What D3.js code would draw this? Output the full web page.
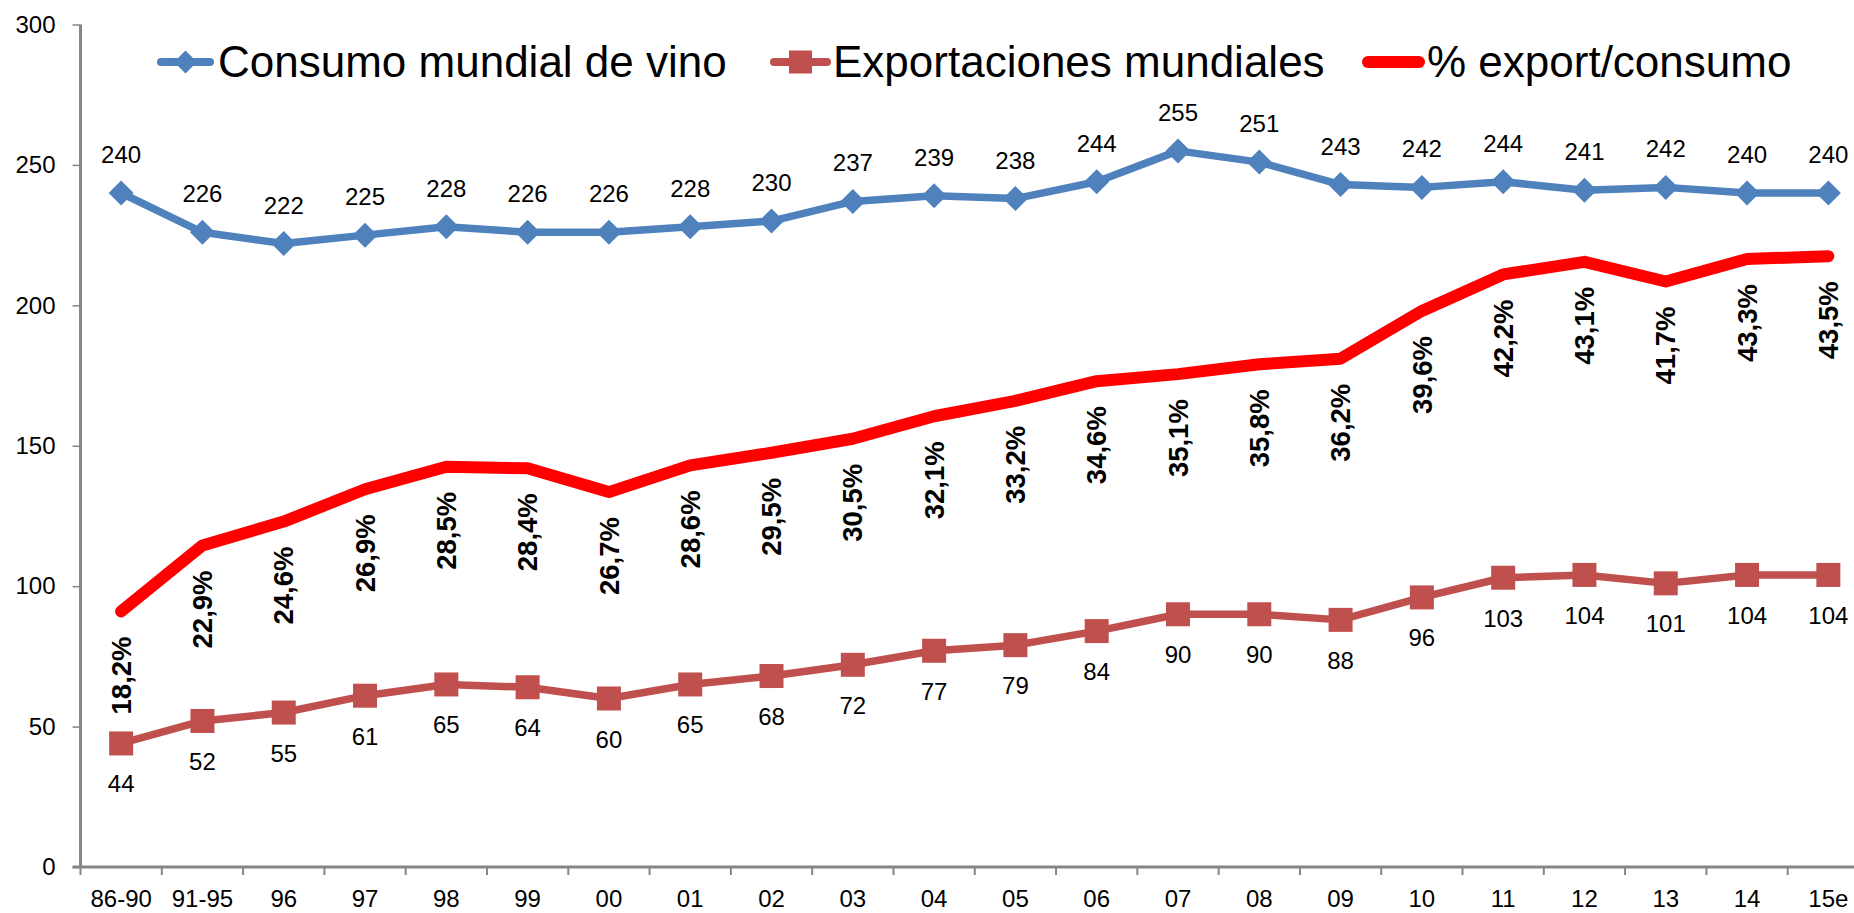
<!DOCTYPE html>
<html>
<head>
<meta charset="utf-8">
<script src="https://cdn.jsdelivr.net/npm/d3@7"></script>
<style>
  html, body { margin: 0; padding: 0; background: #fff; }
  svg { display: block; }
  text { font-family: "Liberation Sans", Arial, sans-serif; fill: #000; }
</style>
</head>
<body>
<svg id="chart" width="1854" height="913"></svg>
<script>
// ---- Data ----
const categories = ["86-90","91-95","96","97","98","99","00","01","02","03","04","05","06","07","08","09","10","11","12","13","14","15e"];
const consumo = [240,226,222,225,228,226,226,228,230,237,239,238,244,255,251,243,242,244,241,242,240,240];
const exportaciones = [44,52,55,61,65,64,60,65,68,72,77,79,84,90,90,88,96,103,104,101,104,104];
const pctExportConsumo = [18.2,22.9,24.6,26.9,28.5,28.4,26.7,28.6,29.5,30.5,32.1,33.2,34.6,35.1,35.8,36.2,39.6,42.2,43.1,41.7,43.3,43.5];
const yTicks = [0,50,100,150,200,250,300];
const seriesNames = ["Consumo mundial de vino","Exportaciones mundiales","% export/consumo"];

// ---- Styles ----
const BLUE = "#4F81BD", BROWN = "#C0504D", RED = "#FF0000", AXIS = "#868686";

const svg = d3.select("#chart");

const x = d3.scaleBand().domain(categories).range([80.5, 1869]).padding(0);
const y = d3.scaleLinear().domain([0, 300]).range([867, 24.5]);
const yPct = d3.scaleLinear().domain([0, 60]).range([867, 24.5]);
const cx = c => x(c) + x.bandwidth() / 2;

// ---- Y axis ----
const yAxis = d3.axisLeft(y).tickValues(yTicks).tickSize(8).tickSizeOuter(0).tickPadding(17);
const gy = svg.append("g").attr("transform", "translate(80.5,0)").call(yAxis);
gy.select(".domain").remove();
gy.selectAll(".tick line").attr("stroke", AXIS).attr("stroke-width", 1.5);
gy.selectAll(".tick text").style("font-size", "24px").attr("fill", "#000")
  .style("font-family", "'Liberation Sans', Arial, sans-serif");
svg.append("line").attr("x1", 80.5).attr("x2", 80.5).attr("y1", y(300)).attr("y2", y(0))
  .attr("stroke", AXIS).attr("stroke-width", 3);

// ---- X axis ----
const gx = svg.append("g").attr("transform", `translate(0,${y(0)})`);
gx.selectAll("line.xt").data(categories).enter().append("line").attr("class", "xt")
  .attr("x1", d => x(d)).attr("x2", d => x(d)).attr("y1", 0).attr("y2", 8)
  .attr("stroke", AXIS).attr("stroke-width", 2);
gx.append("line").attr("x1", 80.5 - 8).attr("x2", 1869).attr("y1", 0).attr("y2", 0)
  .attr("stroke", AXIS).attr("stroke-width", 3);
gx.selectAll("text.xl").data(categories).enter().append("text").attr("class", "xl")
  .attr("x", d => cx(d)).attr("y", 40).attr("text-anchor", "middle")
  .style("font-family", "'Liberation Sans Narrow', 'Liberation Sans', Arial, sans-serif")
  .style("font-size", "24px").text(d => d);

// ---- Lines ----
const lineCons = d3.line().x((d, i) => cx(categories[i])).y(d => y(d));
const linePct = d3.line().x((d, i) => cx(categories[i])).y(d => yPct(d));

svg.append("path").datum(pctExportConsumo).attr("d", linePct)
  .attr("fill", "none").attr("stroke", RED).attr("stroke-width", 12)
  .attr("stroke-linecap", "round").attr("stroke-linejoin", "round");

svg.append("path").datum(exportaciones).attr("d", lineCons)
  .attr("fill", "none").attr("stroke", BROWN).attr("stroke-width", 7.5)
  .attr("stroke-linejoin", "round");

svg.append("path").datum(consumo).attr("d", lineCons)
  .attr("fill", "none").attr("stroke", BLUE).attr("stroke-width", 7.5)
  .attr("stroke-linejoin", "round");

// ---- Markers ----
const dia = 12.5;
svg.selectAll("path.dia").data(consumo).enter().append("path").attr("class", "dia")
  .attr("d", (d, i) => {
    const px = cx(categories[i]), py = y(d);
    return `M${px},${py - dia}L${px + dia},${py}L${px},${py + dia}L${px - dia},${py}Z`;
  }).attr("fill", BLUE);

const sq = 12;
svg.selectAll("rect.sq").data(exportaciones).enter().append("rect").attr("class", "sq")
  .attr("x", (d, i) => cx(categories[i]) - sq).attr("y", d => y(d) - sq)
  .attr("width", sq * 2).attr("height", sq * 2).attr("fill", BROWN);

// ---- Data labels ----
svg.selectAll("text.lc").data(consumo).enter().append("text").attr("class", "lc")
  .attr("x", (d, i) => cx(categories[i])).attr("y", d => y(d) - 30)
  .attr("text-anchor", "middle").style("font-size", "24px").text(d => d);

svg.selectAll("text.le").data(exportaciones).enter().append("text").attr("class", "le")
  .attr("x", (d, i) => cx(categories[i])).attr("y", d => y(d) + 49)
  .attr("text-anchor", "middle").style("font-size", "24px").text(d => d);

svg.selectAll("text.lp").data(pctExportConsumo).enter().append("text").attr("class", "lp")
  .attr("transform", (d, i) => `translate(${cx(categories[i])},${yPct(d) + 25}) rotate(-90)`)
  .attr("text-anchor", "end").attr("dy", "0.35em")
  .style("font-size", "27.5px").style("font-weight", "bold")
  .text(d => d.toFixed(1).replace(".", ",") + "%");

// ---- Legend ----
const legendItems = [
  { name: seriesNames[0], x1: 157, x2: 214, tx: 218, color: BLUE, w: 8, marker: "diamond" },
  { name: seriesNames[1], x1: 770, x2: 831, tx: 833, color: BROWN, w: 8, marker: "square" },
  { name: seriesNames[2], x1: 1362, x2: 1425, tx: 1427, color: RED, w: 12, marker: "none" }
];
const ly = 62;
const lg = svg.append("g");
legendItems.forEach(it => {
  lg.append("line").attr("x1", it.x1 + it.w / 2).attr("x2", it.x2 - it.w / 2).attr("y1", ly).attr("y2", ly)
    .attr("stroke", it.color).attr("stroke-width", it.w).attr("stroke-linecap", "round");
  const mx = (it.x1 + it.x2) / 2;
  if (it.marker === "diamond") {
    const r = 11.5;
    lg.append("path").attr("d", `M${mx},${ly - r}L${mx + r},${ly}L${mx},${ly + r}L${mx - r},${ly}Z`).attr("fill", it.color);
  } else if (it.marker === "square") {
    lg.append("rect").attr("x", mx - 11.5).attr("y", ly - 11.5).attr("width", 23).attr("height", 23).attr("fill", it.color);
  }
  lg.append("text").attr("x", it.tx).attr("y", 77).style("font-size", "44px").text(it.name);
});
</script>
</body>
</html>
